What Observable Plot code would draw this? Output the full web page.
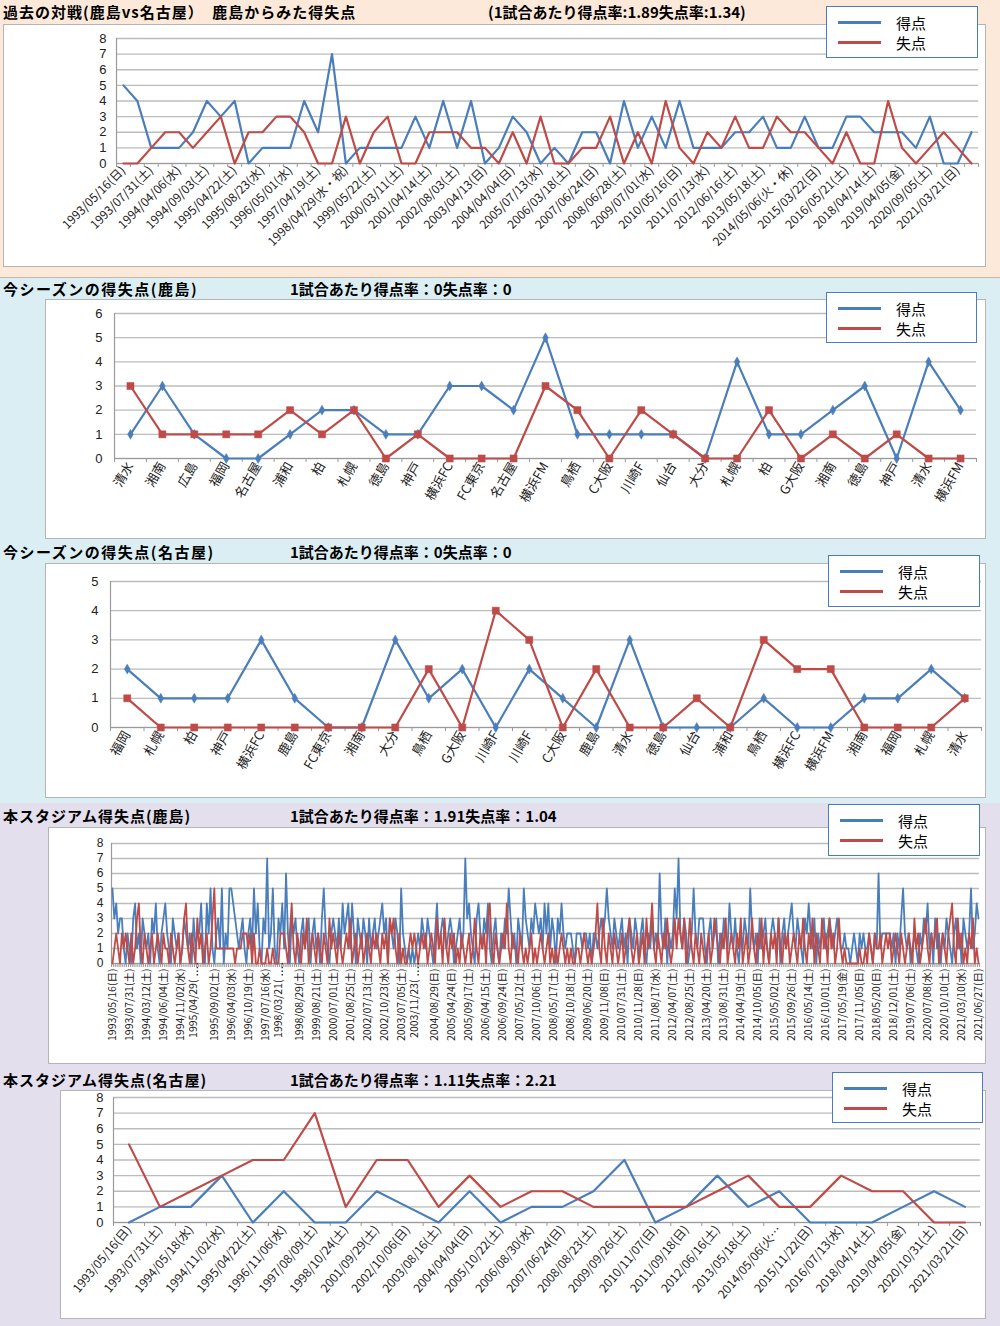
<!DOCTYPE html>
<html><head><meta charset="utf-8">
<script src="https://cdn.jsdelivr.net/npm/d3@7"></script>
<script src="https://cdn.jsdelivr.net/npm/@observablehq/plot@0.6"></script>
<style>
body{margin:0;width:1000px;height:1326px;position:relative;overflow:hidden;font-family:"Noto Sans CJK JP",sans-serif;background:#fff;}
.bg{position:absolute;left:0;width:1000px;}
.box{position:absolute;background:#fff;border:1px solid #b5b5b5;box-sizing:border-box;}
.title{position:absolute;font-weight:700;font-size:15px;white-space:nowrap;color:#000;line-height:18px;}
.legend{position:absolute;background:#fff;border:1.5px solid #4a7ebb;box-sizing:border-box;}
.legend .row{position:absolute;left:11px;height:20px;width:130px;}
.legend .sw{position:absolute;left:0;top:8px;width:43px;height:3px;}
.legend .lt{position:absolute;left:58px;top:0;font-size:15px;line-height:20px;color:#000;}
.plot{position:absolute;left:0;}
</style></head><body>
<div class="bg" style="top:0;height:277px;background:#fde9d9;border-bottom:1px solid #c9b8a8;"></div>
<div class="bg" style="top:278px;height:525px;background:#daeef3;"></div>
<div class="bg" style="top:803px;height:523px;background:#e4dfec;"></div>
<div class="box" style="left:3px;top:24px;width:983px;height:243px;"></div>
<div class="box" style="left:45px;top:299px;width:941px;height:240px;"></div>
<div class="box" style="left:45px;top:563px;width:941px;height:235px;"></div>
<div class="box" style="left:48px;top:827px;width:938px;height:237px;"></div>
<div class="box" style="left:60px;top:1090px;width:926px;height:229px;"></div>
<div id="titles"></div>
<div id="plots"></div>
<div id="legends"></div>
<script>
// ---------- data ----------
const p1Dates = ["1993/05/16(日)","1993/07/31(土)","1994/04/06(水)","1994/09/03(土)","1995/04/22(土)","1995/08/23(水)","1996/05/01(水)","1997/04/19(土)","1998/04/29(水・祝)","1999/05/22(土)","2000/03/11(土)","2001/04/14(土)","2002/08/03(土)","2003/04/13(日)","2004/04/04(日)","2005/07/13(水)","2006/03/18(土)","2007/06/24(日)","2008/06/28(土)","2009/07/01(水)","2010/05/16(日)","2011/07/13(水)","2012/06/16(土)","2013/05/18(土)","2014/05/06(火・休)","2015/03/22(日)","2016/05/21(土)","2018/04/14(土)","2019/04/05(金)","2020/09/05(土)","2021/03/21(日)"];
const p1Get  = [5,4,1,1,1,2,4,3,4,0,1,1,1,4,2,7,0,1,1,1,1,3,1,4,1,4,0,1,3,2,0,1,0,2,2,0,4,1,3,1,4,1,1,1,2,2,3,1,1,3,1,1,3,3,2,2,2,1,3,0,0,2];
const p1Lose = [0,0,1,2,2,1,2,3,0,2,2,3,3,2,0,0,3,0,2,3,0,0,2,2,2,1,1,0,2,0,3,0,0,1,1,3,0,2,0,4,1,0,2,1,3,1,1,3,2,2,1,0,2,0,0,4,1,0,1,2,1,0];

const p2Teams = ["清水","湘南","広島","福岡","名古屋","浦和","柏","札幌","徳島","神戸","横浜FC","FC東京","名古屋","横浜FM","鳥栖","C大阪","川崎F","仙台","大分","札幌","柏","G大阪","湘南","徳島","神戸","清水","横浜FM"];
const p2Get  = [1,3,1,0,0,1,2,2,1,1,3,3,2,5,1,1,1,1,0,4,1,1,2,3,0,4,2];
const p2Lose = [3,1,1,1,1,2,1,2,0,1,0,0,0,3,2,0,2,1,0,0,2,0,1,0,1,0,0];

const p3Teams = ["福岡","札幌","柏","神戸","横浜FC","鹿島","FC東京","湘南","大分","鳥栖","G大阪","川崎F","川崎F","C大阪","鹿島","清水","徳島","仙台","浦和","鳥栖","横浜FC","横浜FM","湘南","福岡","札幌","清水"];
const p3Get  = [2,1,1,1,3,1,0,0,3,1,2,0,2,1,0,3,0,0,0,1,0,0,1,1,2,1];
const p3Lose = [1,0,0,0,0,0,0,0,0,2,0,4,3,0,2,0,0,1,0,3,2,2,0,0,0,1];

const p4Dates = ["1993/05/16(日)","1993/07/31(土)","1994/03/12(土)","1994/06/04(土)","1994/11/02(水)","1995/04/29(","1995/09/02(土)","1996/04/03(水)","1996/10/19(土)","1997/07/16(水)","1998/03/21(","1998/08/29(土)","1999/08/21(土)","2000/07/01(土)","2001/08/25(土)","2002/07/13(土)","2002/10/23(水)","2003/07/05(土)","2003/11/23(","2004/08/29(日)","2005/04/24(日)","2005/09/17(土)","2006/04/15(土)","2006/09/24(日)","2007/05/12(土)","2007/10/06(土)","2008/05/17(土)","2008/10/18(土)","2009/06/20(土)","2009/11/08(日)","2010/07/31(土)","2010/11/28(日)","2011/08/17(水)","2012/04/07(土)","2012/08/25(土)","2013/04/20(土)","2013/08/31(土)","2014/04/19(土)","2014/10/05(日)","2015/05/02(土)","2015/09/26(土)","2016/05/14(土)","2016/10/01(土)","2017/05/19(金)","2017/11/05(日)","2018/05/20(日)","2018/12/01(土)","2019/07/06(土)","2020/07/08(水)","2020/10/10(土)","2021/03/10(水)","2021/06/27(日)"];
const p4ShiftedLabels = ["1995/04/29(","1998/03/21(","2003/11/23("];
const p4Get = [
5,3,4,2,3,3,1,0,2,1, 0,3,4,1,2,0,3,2,1,2, 0,3,2,4,1,0,2,3,4,2, 1,0,3,2,1,2,0,1,3,2,
1,2,0,3,1,2,2,4,1,0, 4,2,5,1,0,2,3,1,5,0, 2,1,5,5,4,3,2,1,2,3, 1,0,2,3,1,5,2,4,1,0,
3,2,7,1,2,5,1,0,3,2, 4,1,6,2,0,3,2,3,1,0, 2,3,1,2,3,0,2,3,1,2, 0,3,5,2,1,0,2,3,2,1,
3,1,4,2,3,4,1,4,2,0, 3,2,1,3,2,0,3,1,2,3, 1,2,3,4,2,3,0,3,2,1, 3,2,0,5,2,1,0,1,0,1,
0,1,2,1,3,2,1,3,2,1, 0,2,4,1,2,3,2,1,2,3, 2,0,1,2,3,1,2,7,3,4, 2,1,0,3,4,2,1,3,2,4,
1,0,2,3,1,0,2,1,3,2, 5,3,1,2,0,3,2,1,5,3, 2,1,3,2,4,3,2,3,1,4, 2,4,1,3,2,0,3,2,4,2,
1,2,2,2,1,0,2,2,2,1, 2,2,1,2,0,2,2,1,2,3, 2,3,5,3,2,1,3,2,1,2, 3,1,2,0,3,2,1,3,2,0,
2,3,1,0,2,1,3,1,2,1, 6,2,1,3,0,2,1,2,5,3, 7,2,1,3,2,0,1,2,5,2, 1,3,3,3,1,0,2,3,1,2,
3,0,2,1,3,2,1,4,2,1, 3,1,0,2,1,3,2,1,5,2, 1,2,0,3,1,2,3,1,0,2, 3,2,1,3,0,2,3,1,2,3,
4,2,1,3,2,1,0,3,2,4, 2,1,3,0,2,1,2,3,1,2, 3,2,1,2,3,2,1,1,2,1, 1,0,1,2,1,0,2,1,2,1,
1,2,1,0,2,1,6,1,2,2, 2,2,2,1,2,0,2,1,3,5, 2,1,2,0,1,2,1,0,2,1, 3,2,4,1,2,0,3,1,2,0,
2,1,3,2,1,0,2,3,1,2, 0,3,2,1,2,5,1,2,4,3];
const p4Lose = [
0,1,2,1,0,2,1,2,1,0, 2,0,1,3,4,1,0,2,1,0, 1,2,0,1,2,1,0,2,1,1, 0,2,1,0,1,2,0,1,3,4,
1,0,2,1,0,3,1,2,0,1, 2,0,1,3,5,1,1,1,1,1, 1,1,1,1,1,0,1,1,1,2, 2,2,1,2,0,2,0,0,1,0,
0,0,1,0,0,1,0,0,0,2, 2,2,1,0,2,4,1,0,2,1, 0,2,1,3,0,1,2,1,0,2, 1,0,2,1,0,3,1,2,1,0,
2,1,0,1,2,1,3,0,1,2, 0,1,2,0,1,2,1,0,2,1, 2,1,0,2,1,2,0,3,2,3, 1,0,2,0,1,0,0,1,2,1,
2,1,0,1,2,1,2,0,1,2, 1,0,3,1,2,0,3,1,0,2, 1,2,0,1,0,2,1,0,1,2, 0,1,3,1,0,2,1,2,0,3,
4,1,0,2,1,0,1,2,1,4, 1,0,2,1,1,0,2,1,0,1, 0,1,2,0,1,0,1,2,1,0, 1,2,0,1,0,1,0,1,2,1,
0,1,0,1,0,0,1,1,0,1, 2,1,0,1,0,1,2,4,1,0, 3,1,0,2,1,0,2,1,0,1, 2,0,1,2,3,1,0,1,2,0,
1,2,0,3,1,2,4,1,0,2, 1,0,2,1,3,1,0,1,3,1, 3,2,1,3,0,1,3,1,0,2, 1,0,2,1,0,1,2,0,1,3,
2,1,0,2,1,3,0,1,2,1, 0,2,1,3,0,1,2,0,1,3, 1,0,2,1,3,0,2,1,0,2, 1,2,0,3,1,0,2,1,2,0,
1,2,1,0,2,1,3,1,0,2, 1,3,0,2,1,0,3,1,2,0, 3,1,2,0,1,3,1,0,1,0, 0,0,0,0,0,0,1,0,0,1,
0,2,1,0,2,1,1,2,0,1, 2,1,2,0,1,2,1,0,2,1, 0,1,2,1,0,3,1,2,0,1, 2,3,1,0,2,1,2,3,0,1,
2,1,0,2,3,4,1,0,3,1, 2,0,1,0,2,1,3,0,1,0];

const p5Dates = ["1993/05/16(日)","1993/07/31(土)","1994/05/18(水)","1994/11/02(水)","1995/04/22(土)","1996/11/06(水)","1997/08/09(土)","1998/10/24(土)","2001/09/29(土)","2002/10/06(日)","2003/08/16(土)","2004/04/04(日)","2005/10/22(土)","2006/08/30(水)","2007/06/24(日)","2008/08/23(土)","2009/09/26(土)","2010/11/07(日)","2011/09/18(日)","2012/06/16(土)","2013/05/18(土)","2014/05/06(火…","2015/11/22(日)","2016/07/13(水)","2018/04/14(土)","2019/04/05(金)","2020/10/31(土)","2021/03/21(日)"];
const p5Get  = [0,1,1,3,0,2,0,0,2,1,0,2,0,1,1,2,4,0,1,3,1,2,0,0,0,1,2,1];
const p5Lose = [5,1,2,3,4,4,7,1,4,4,1,3,1,2,2,1,1,1,1,2,3,1,1,3,2,2,0,0];

const seriesNames = ["得点","失点"];
const colorGet = "#4a7ebb", colorLose = "#be4b48";

// ---------- titles ----------
const titles = [
  {l:"過去の対戦(鹿島vs名古屋）　鹿島からみた得失点", r:"(1試合あたり得点率:1.89失点率:1.34)", top:3, rx:488, ls:1},
  {l:"今シーズンの得失点(鹿島)", r:"1試合あたり得点率：0失点率：0", top:280, rx:290, ls:1.5},
  {l:"今シーズンの得失点(名古屋)", r:"1試合あたり得点率：0失点率：0", top:543, rx:290, ls:1.5},
  {l:"本スタジアム得失点(鹿島)", r:"1試合あたり得点率：1.91失点率：1.04", top:807, rx:290, ls:1},
  {l:"本スタジアム得失点(名古屋)", r:"1試合あたり得点率：1.11失点率：2.21", top:1071, rx:290, ls:1}
];
const tDiv = document.getElementById("titles");
for (const t of titles) {
  const a = document.createElement("div"); a.className="title"; a.style.left="3px"; a.style.top=t.top+"px"; a.style.letterSpacing=t.ls+"px"; a.textContent=t.l; tDiv.appendChild(a);
  const b = document.createElement("div"); b.className="title"; b.style.left=t.rx+"px"; b.style.top=t.top+"px"; b.textContent=t.r; tDiv.appendChild(b);
}

// ---------- legends ----------
const legends = [
  {left:826, top:6, w:152, h:52},
  {left:826, top:292, w:151, h:51},
  {left:828, top:555, w:152, h:52},
  {left:828, top:804, w:152, h:52},
  {left:832, top:1072, w:151, h:51}
];
const lDiv = document.getElementById("legends");
for (const L of legends) {
  const box = document.createElement("div"); box.className="legend";
  Object.assign(box.style,{left:L.left+"px",top:L.top+"px",width:L.w+"px",height:L.h+"px"});
  [colorGet,colorLose].forEach((c,k)=>{
    const row=document.createElement("div"); row.className="row"; row.style.top=(6+k*20)+"px";
    const sw=document.createElement("div"); sw.className="sw"; sw.style.background=c;
    const lt=document.createElement("div"); lt.className="lt"; lt.textContent=seriesNames[k];
    row.appendChild(sw); row.appendChild(lt); box.appendChild(row);
  });
  lDiv.appendChild(box);
}

// ---------- plots ----------
function chart(cfg) {
  const n = cfg.get.length;
  const bounds = d3.range(n + 1).map(i => i - 0.5);
  const yt = d3.range(0, cfg.ymax + 1);
  const labelOf = new Map(cfg.tickIdx.map((i, k) => [i, cfg.tickText[k]]));
  const axisIdx = cfg.tickIdx.filter(i => !(cfg.skip || []).includes(labelOf.get(i)));
  const marks = [
    Plot.gridY(yt, {stroke: "#bcbcbc", strokeOpacity: 1, strokeWidth: 1.3}),
    Plot.axisY(yt, {tickSize: 0, tickPadding: cfg.yPad, fontSize: cfg.yFont, fontFamily: '"Liberation Sans", Arial, sans-serif', label: null, tickFormat: d3.format("d"), color: "#222"}),
    Plot.ruleX([-0.5], {stroke: "#9a9a9a", strokeWidth: 1.2}),
    Plot.ruleY([0], {stroke: "#9a9a9a", strokeWidth: 1.2}),
    Plot.axisX(bounds, {tickSize: 4, tickFormat: () => "", label: null, color: "#9a9a9a"}),
    Plot.axisX(axisIdx, {tickSize: 0, tickPadding: cfg.xPad, tickRotate: cfg.rotate, fontSize: cfg.xFont, label: null, tickFormat: i => labelOf.get(i), color: "#222"}),
    Plot.lineY(cfg.get, {x: (d, i) => i, y: d => d, stroke: colorGet, strokeWidth: cfg.sw}),
    Plot.lineY(cfg.lose, {x: (d, i) => i, y: d => d, stroke: colorLose, strokeWidth: cfg.sw})
  ];
  if (cfg.markers) {
    marks.splice(7, 0, Plot.dot(cfg.get, {x: (d, i) => i, y: d => d, symbol: "diamond", r: 3, fill: colorGet, stroke: colorGet, strokeWidth: 0.5}));
    marks.push(Plot.dot(cfg.lose, {x: (d, i) => i, y: d => d, symbol: "square", r: 4, fill: colorLose, stroke: colorLose, strokeWidth: 0.5}));
  }
  if (cfg.skip) {
    const sIdx = cfg.tickIdx.filter(i => cfg.skip.includes(labelOf.get(i)));
    marks.push(Plot.ruleX(sIdx, {y1: 0, y2: -0.95, stroke: "#333", strokeDasharray: "1.5,2.2", strokeWidth: 1.5}));
    marks.push(Plot.text(sIdx, {x: d => d, frameAnchor: "bottom", text: d => labelOf.get(d), rotate: -90, textAnchor: "end", dy: 16, fontSize: cfg.xFont, fill: "#222"}));
  }
  const svg = Plot.plot({
    width: 1000, height: cfg.height,
    marginLeft: cfg.ml, marginRight: cfg.mr, marginTop: cfg.mt, marginBottom: cfg.mb,
    x: {type: "linear", domain: [-0.5, n - 0.5]},
    y: {domain: [0, cfg.ymax]},
    style: {fontFamily: '"Noto Sans CJK JP", sans-serif', background: "transparent", overflow: "visible"},
    marks
  });
  svg.classList.add("plot");
  svg.style.top = cfg.top + "px";
  document.getElementById("plots").appendChild(svg);
}

chart({top: 0, height: 275, ml: 116, mr: 22, mt: 38, mb: 112, ymax: 8, get: p1Get, lose: p1Lose,
  tickIdx: d3.range(0, p1Get.length, 2), tickText: p1Dates, rotate: -45, xFont: 12, xPad: 5, yFont: 13, yPad: 10, sw: 2.2});
chart({top: 295, height: 245, ml: 114, mr: 24, mt: 18, mb: 82, ymax: 6, get: p2Get, lose: p2Lose,
  tickIdx: d3.range(p2Get.length), tickText: p2Teams, rotate: -60, xFont: 13, xPad: 5, yFont: 13, yPad: 12, sw: 2.2, markers: true});
chart({top: 560, height: 240, ml: 110, mr: 19, mt: 21, mb: 73, ymax: 5, get: p3Get, lose: p3Lose,
  tickIdx: d3.range(p3Get.length), tickText: p3Teams, rotate: -60, xFont: 13, xPad: 5, yFont: 13, yPad: 12, sw: 2.2, markers: true});
chart({top: 825, height: 240, ml: 111, mr: 21, mt: 18, mb: 102, ymax: 8, get: p4Get, lose: p4Lose,
  tickIdx: d3.range(0, p4Get.length, 9), tickText: p4Dates, rotate: -90, xFont: 10.5, xPad: 5, yFont: 12, yPad: 8, sw: 1.8, skip: p4ShiftedLabels});
chart({top: 1088, height: 235, ml: 113, mr: 20, mt: 9, mb: 101, ymax: 8, get: p5Get, lose: p5Lose,
  tickIdx: d3.range(p5Get.length), tickText: p5Dates, rotate: -50, xFont: 12, xPad: 5, yFont: 13, yPad: 10, sw: 2.2});
</script>
</body></html>
